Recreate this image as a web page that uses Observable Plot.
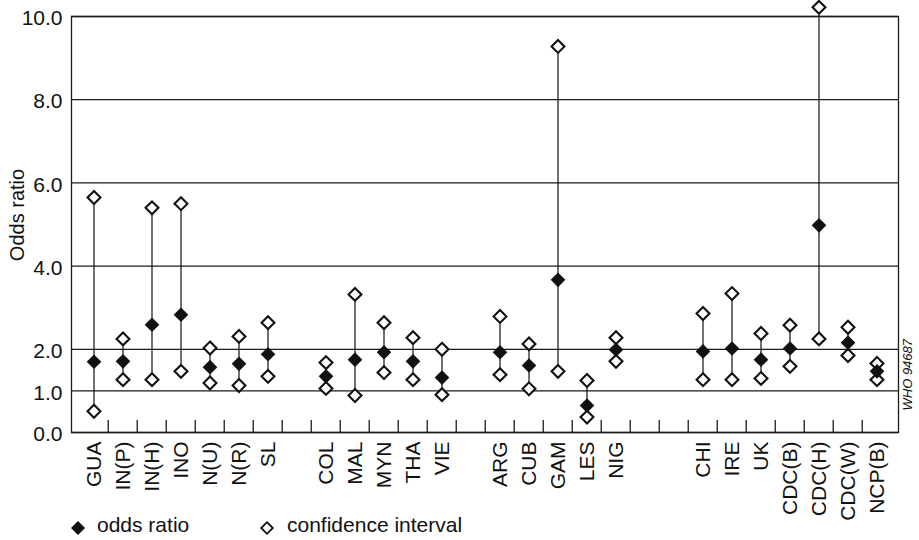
<!DOCTYPE html>
<html>
<head>
<meta charset="utf-8">
<script src="https://cdn.jsdelivr.net/npm/d3@7"></script>
<script src="https://cdn.jsdelivr.net/npm/@observablehq/plot@0.6"></script>
<style>
  html, body { margin: 0; padding: 0; background: #fff; }
  #wrap { position: relative; width: 919px; }
  #chart { width: 919px; height: 512px; }
  #ylabel { position: absolute; left: 17px; top: 215px; transform: translate(-50%, -50%) rotate(-90deg);
    font-family: "Liberation Sans", Arial, sans-serif; font-size: 20px; color: #111; white-space: nowrap; line-height: 1; }
  #legend { position: relative; width: 919px; height: 28px; font-family: "Liberation Sans", Arial, sans-serif; font-size: 21px; color: #111; }
  #legend span { position: absolute; top: 0; line-height: 26px; white-space: nowrap; }
  #legend svg { position: absolute; top: 8px; }
</style>
</head>
<body>
<div id="wrap">
<div id="chart"></div>
<div id="ylabel">Odds ratio</div>
<div id="legend">
  <svg style="left:70px" width="16" height="16" viewBox="-8 -8 16 16"><path d="M0,-7L7,0L0,7L-7,0Z" fill="#111"/></svg>
  <span style="left:97px">odds ratio</span>
  <svg style="left:259px" width="16" height="16" viewBox="-8 -8 16 16"><path d="M0,-5.8L5.8,0L0,5.8L-5.8,0Z" fill="#fff" stroke="#111" stroke-width="1.8"/></svg>
  <span style="left:287px">confidence interval</span>
</div>
</div>
<script>
// categories in display order; null marks an empty slot between groups
const categories = ["GUA","IN(P)","IN(H)","INO","N(U)","N(R)","SL",null,
  "COL","MAL","MYN","THA","VIE",null,
  "ARG","CUB","GAM","LES","NIG",null,null,
  "CHI","IRE","UK","CDC(B)","CDC(H)","CDC(W)","NCP(B)"];
const oddsRatio = [1.70,1.71,2.59,2.83,1.57,1.65,1.88, null,
  1.35,1.75,1.93,1.71,1.32, null,
  1.93,1.61,3.67,0.65,1.99, null,null,
  1.95,2.02,1.75,2.02,4.98,2.16,1.47];
const ciLow = [0.51,1.27,1.27,1.47,1.19,1.13,1.35, null,
  1.06,0.89,1.44,1.27,0.91, null,
  1.39,1.05,1.47,0.37,1.71, null,null,
  1.27,1.27,1.30,1.59,2.25,1.85,1.27];
const ciHigh = [5.65,2.25,5.40,5.50,2.03,2.31,2.64, null,
  1.68,3.32,2.64,2.28,2.00, null,
  2.79,2.13,9.28,1.25,2.28, null,null,
  2.86,3.34,2.38,2.58,10.22,2.53,1.66];
const yTicks = [0,1,2,4,6,8,10];

const slots = categories.map((c, i) => c === null ? "gap" + i : c);
const rows = categories.map((c, i) => ({cat: slots[i], or: oddsRatio[i], lo: ciLow[i], hi: ciHigh[i]}))
  .filter(d => !d.cat.startsWith("gap"));

const W = 919, H = 512, mL = 71, mR = 21, mT = 16, mB = 80;
const step = (W - mL - mR) / slots.length;
const ink = "#111";
const font = "Liberation Sans, Arial, sans-serif";

const chart = Plot.plot({
  width: W, height: H,
  marginLeft: mL, marginRight: mR, marginTop: mT, marginBottom: mB,
  style: {fontFamily: font, fontSize: "21px", color: ink, background: "#fff", overflow: "visible"},
  x: {type: "band", domain: slots, padding: 0},
  y: {domain: [0, 10]},
  marks: [
    Plot.ruleY(yTicks, {stroke: "#1a1a1a", strokeWidth: 1.3}),
    Plot.frame({stroke: "#1a1a1a", strokeWidth: 1.3}),
    Plot.ruleX(slots.slice(1), {x: d => d, dx: -step / 2, insetTop: (H - mT - mB) - 12, stroke: "#1a1a1a", strokeWidth: 1.3}),
    Plot.axisX({tickSize: 0, tickPadding: 9, tickRotate: -90, label: null,
      tickFormat: d => d.startsWith("gap") ? "" : d, fontSize: 21}),
    Plot.axisY(yTicks, {tickSize: 0, tickPadding: 9, label: null, tickFormat: d3.format(".1f"), fontSize: 21, dy: 2}),
    Plot.ruleX(rows, {x: "cat", y1: "lo", y2: "hi", stroke: ink, strokeWidth: 1.2}),
    Plot.dot(rows, {x: "cat", y: "hi", symbol: "diamond2", r: 5.8, fill: "#fff", stroke: ink, strokeWidth: 2.1}),
    Plot.dot(rows, {x: "cat", y: "lo", symbol: "diamond2", r: 5.8, fill: "#fff", stroke: ink, strokeWidth: 2.1}),
    Plot.dot(rows, {x: "cat", y: "or", symbol: "diamond2", r: 6.6, fill: ink, stroke: "none"}),
    Plot.text(["WHO 94687"], {frameAnchor: "bottom-right", rotate: -90, textAnchor: "start", dx: 13, dy: -22, fontSize: 13, fontStyle: "italic"})
  ]
});
document.getElementById("chart").appendChild(chart);
</script>
</body>
</html>
